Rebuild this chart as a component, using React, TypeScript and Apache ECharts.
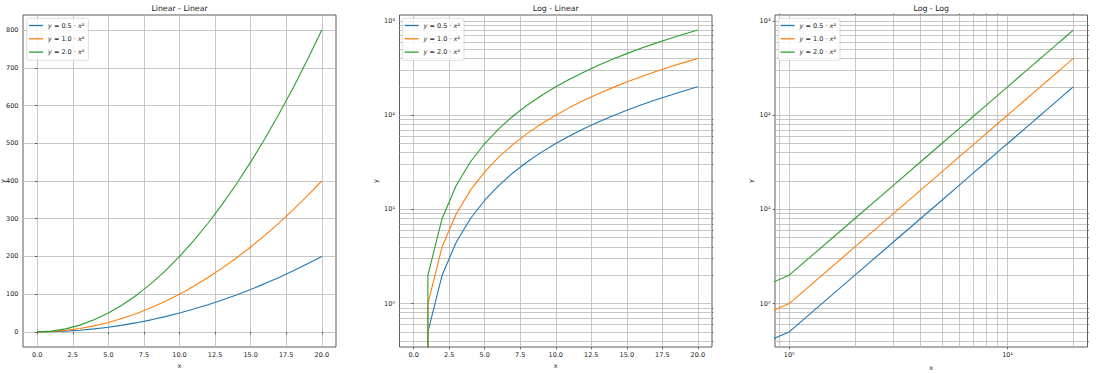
import React, { useEffect, useRef } from "react";
import * as echarts from "echarts";

const xValues = [0, 1, 2, 3, 4, 5, 6, 7, 8, 9, 10, 11, 12, 13, 14, 15, 16, 17, 18, 19, 20];
const yHalf = [0, 0.5, 2, 4.5, 8, 12.5, 18, 24.5, 32, 40.5, 50, 60.5, 72, 84.5, 98, 112.5, 128, 144.5, 162, 180.5, 200];
const yOne = [0, 1, 4, 9, 16, 25, 36, 49, 64, 81, 100, 121, 144, 169, 196, 225, 256, 289, 324, 361, 400];
const yTwo = [0, 2, 8, 18, 32, 50, 72, 98, 128, 162, 200, 242, 288, 338, 392, 450, 512, 578, 648, 722, 800];
const seriesValues = [yHalf, yOne, yTwo];
const seriesNames = ["y = 0.5 · x²", "y = 1.0 · x²", "y = 2.0 · x²"];
const seriesColors = ["#1f77b4", "#ff7f0e", "#2ca02c"];
const titles = ["Linear - Linear", "Log - Linear", "Log - Log"];
const linearXTicks = [0, 2.5, 5, 7.5, 10, 12.5, 15, 17.5, 20];
const linearYTicks = [0, 100, 200, 300, 400, 500, 600, 700, 800];
const logMajorY = [1, 10, 100, 1000];
const logMinorY = [0.4, 0.5, 0.6, 0.7, 0.8, 0.9, 2, 3, 4, 5, 6, 7, 8, 9, 20, 30, 40, 50, 60, 70, 80, 90, 200, 300, 400, 500, 600, 700, 800, 900];
const logMajorX = [1, 10];
const logMinorX = [0.9, 2, 3, 4, 5, 6, 7, 8, 9, 20];

const FONT = "DejaVu Sans";
const GRID_COLOR = "#b8b8b8";
const TEXT_COLOR = "#222";

const SUP: Record<string, string> = { "-": "⁻", "0": "⁰", "1": "¹", "2": "²", "3": "³" };
const powLabel = (v: number) => "10" + String(Math.round(Math.log10(v))).split("").map((c) => SUP[c]).join("");

function linPad(vals: number[]): [number, number] {
  const lo = Math.min(...vals), hi = Math.max(...vals);
  const m = (hi - lo) * 0.05;
  return [lo - m, hi + m];
}
function logPad(vals: number[]): [number, number] {
  const pos = vals.filter((v) => v > 0).map((v) => Math.log10(v));
  const lo = Math.min(...pos), hi = Math.max(...pos);
  const m = (hi - lo) * 0.05;
  return [Math.pow(10, lo - m), Math.pow(10, hi + m)];
}
const clipLog = (v: number) => (v > 0 ? v : 1e-300);

const grids = [
  { left: 23, top: 15, width: 313, height: 332 },
  { left: 399.5, top: 15, width: 312.5, height: 332 },
  { left: 775, top: 15, width: 312.5, height: 332 },
];

export default function App() {
  const ref = useRef<HTMLDivElement>(null);
  useEffect(() => {
    if (!ref.current) return;
    const chart = echarts.init(ref.current, undefined, { renderer: "svg" });
    const allY = [...yHalf, ...yOne, ...yTwo];
    const [lx0, lx1] = linPad(xValues);
    const [ly0, ly1] = linPad(allY);
    const [gy0, gy1] = logPad(allY);
    const [gx0, gx1] = logPad(xValues);

    const labelStyle = { fontSize: 6.5, fontFamily: FONT, color: TEXT_COLOR };
    const nameStyle = { fontSize: 6.5, fontFamily: FONT, color: TEXT_COLOR };
    const majorTick = { show: true, length: 2.4, lineStyle: { color: "#333", width: 0.7 } };
    const minorTickStyle = { show: true, length: 1.4, lineStyle: { color: "#333", width: 0.6 } };
    const split = { show: true, lineStyle: { color: GRID_COLOR, width: 0.8 } };

    const linX = (gridIndex: number) => ({
      type: "value", gridIndex, min: lx0, max: lx1,
      axisLine: { show: false },
      axisTick: { ...majorTick, customValues: linearXTicks },
      axisLabel: { ...labelStyle, margin: 4, customValues: linearXTicks, formatter: (v: number) => v.toFixed(1) },
      splitLine: split,
      name: "x", nameLocation: "middle", nameGap: 15, nameTextStyle: nameStyle,
    });

    const xAxis: any[] = [
      linX(0),
      linX(1),
      {
        type: "log", gridIndex: 2, min: gx0, max: gx1,
        axisLine: { show: false },
        axisTick: { ...majorTick, customValues: logMajorX },
        axisLabel: { ...labelStyle, margin: 4, customValues: logMajorX, formatter: powLabel },
        splitLine: split,
        name: "x", nameLocation: "middle", nameGap: 17.5, nameTextStyle: nameStyle,
      },
      {
        type: "log", gridIndex: 2, min: gx0, max: gx1,
        axisLine: { show: false },
        axisTick: { ...minorTickStyle, customValues: logMinorX },
        axisLabel: { show: false },
        splitLine: split,
      },
    ];

    const logY = (gridIndex: number) => ({
      type: "log", gridIndex, min: gy0, max: gy1,
      axisLine: { show: false },
      axisTick: { ...majorTick, customValues: logMajorY },
      axisLabel: { ...labelStyle, margin: 4.5, customValues: logMajorY, formatter: powLabel },
      splitLine: split,
      name: "y", nameLocation: "middle", nameGap: 20.5, nameTextStyle: nameStyle,
    });
    const logYMinor = (gridIndex: number) => ({
      type: "log", gridIndex, min: gy0, max: gy1,
      axisLine: { show: false },
      axisTick: { ...minorTickStyle, customValues: logMinorY },
      axisLabel: { show: false },
      splitLine: split,
    });

    const yAxis: any[] = [
      {
        type: "value", gridIndex: 0, min: ly0, max: ly1,
        axisLine: { show: false },
        axisTick: { ...majorTick, customValues: linearYTicks },
        axisLabel: { ...labelStyle, margin: 4.5, customValues: linearYTicks, formatter: (v: number) => String(Math.round(v)) },
        splitLine: split,
        name: "y", nameLocation: "middle", nameGap: 18, nameMoveOverlap: false,
        nameTextStyle: { ...nameStyle, lineHeight: 5 },
      },
      logY(1),
      logYMinor(1),
      logY(2),
      logYMinor(2),
    ];

    const series: any[] = [];
    const axisMap = [
      { x: 0, y: 0, logX: false, logY: false },
      { x: 1, y: 1, logX: false, logY: true },
      { x: 2, y: 3, logX: true, logY: true },
    ];
    axisMap.forEach((m) => {
      seriesValues.forEach((vals, k) => {
        series.push({
          type: "line",
          name: seriesNames[k],
          xAxisIndex: m.x,
          yAxisIndex: m.y,
          data: xValues.map((x, i) => [m.logX ? clipLog(x) : x, m.logY ? clipLog(vals[i]) : vals[i]]),
          showSymbol: false,
          symbol: "none",
          smooth: false,
          clip: true,
          color: seriesColors[k],
          lineStyle: { color: seriesColors[k], width: 1.1 },
          z: 5,
        });
      });
    });

    const legendLefts = [26.7, 402.3, 778.3];
    const legend = legendLefts.map((left) => ({
      orient: "vertical",
      left,
      top: 18.3,
      data: seriesNames,
      icon: "rect",
      itemWidth: 14,
      itemHeight: 1.3,
      itemGap: 5.3,
      padding: [3.2, 4, 4.2, 2.3],
      backgroundColor: "rgba(255,255,255,0.85)",
      borderColor: "#d0d0d0",
      borderWidth: 0.7,
      borderRadius: 2,
      selectedMode: false,
      textStyle: {
        fontSize: 6.5,
        fontFamily: FONT,
        color: TEXT_COLOR,
        lineHeight: 8,
        rich: { i: { fontStyle: "italic", fontSize: 6.5, fontFamily: FONT, color: TEXT_COLOR, lineHeight: 8 } },
      },
      formatter: (name: string) => name.replace(/^y/, "{i|y}").replace(/x²/, "{i|x}²"),
      z: 10,
    }));

    const title = titles.map((t, i) => ({
      text: t,
      left: grids[i].left + grids[i].width / 2,
      top: 4.6,
      textAlign: "center",
      padding: 0,
      textStyle: { fontSize: 7.8, fontFamily: FONT, color: TEXT_COLOR, fontWeight: "normal" },
    }));

    chart.setOption({
      animation: false,
      backgroundColor: "#fff",
      title,
      legend,
      grid: grids.map((g) => ({
        ...g,
        show: true,
        borderColor: "#333",
        borderWidth: 0.8,
        backgroundColor: "transparent",
        containLabel: false,
        outerBoundsMode: "none",
      })),
      xAxis,
      yAxis,
      series,
    });
    return () => chart.dispose();
  }, []);
  return <div ref={ref} style={{ position: "absolute", left: 0, top: 0, width: 1100, height: 374 }} />;
}
